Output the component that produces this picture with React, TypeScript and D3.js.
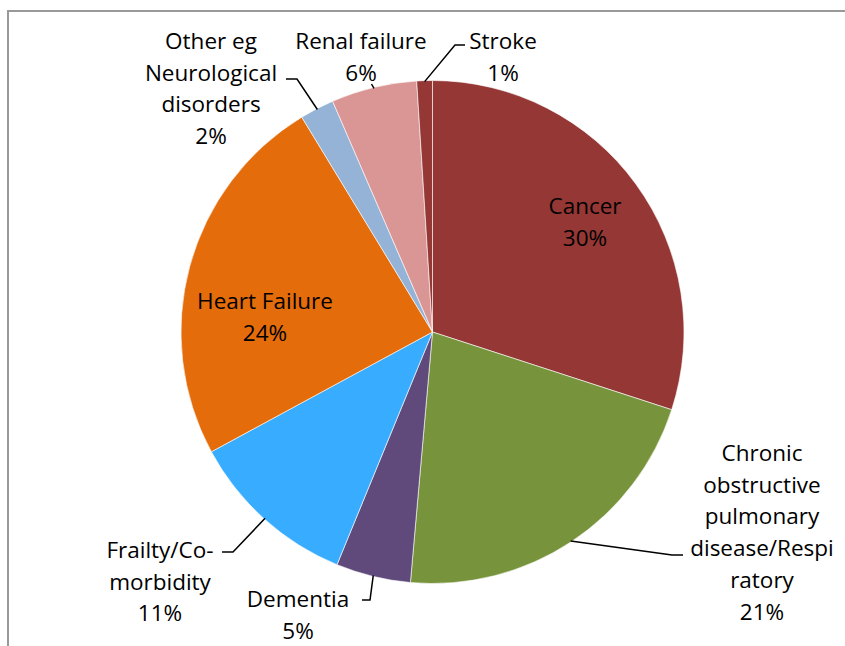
import React from "react";
import * as d3 from "d3";

const categories = [
  "Cancer",
  "Chronic obstructive pulmonary disease/Respiratory",
  "Dementia",
  "Frailty/Co-morbidity",
  "Heart Failure",
  "Other eg Neurological disorders",
  "Renal failure",
  "Stroke",
];
const values = [30.0, 21.4, 4.8, 10.9, 24.2, 2.2, 5.5, 1.0];
const percentLabels = ["30%", "21%", "5%", "11%", "24%", "2%", "6%", "1%"];
const colors = ["#953735", "#77933C", "#604A7B", "#38ADFF", "#E46C0A", "#95B3D7", "#D99694", "#953735"];

// label layout: text lines and centers, leader polylines (after pie edge point)
const labelLines = [
  ["Cancer", "30%"],
  ["Chronic", "obstructive", "pulmonary", "disease/Respi", "ratory", "21%"],
  ["Dementia", "5%"],
  ["Frailty/Co-", "morbidity", "11%"],
  ["Heart Failure", "24%"],
  ["Other eg", "Neurological", "disorders", "2%"],
  ["Renal failure", "6%"],
  ["Stroke", "1%"],
];
const labelPos: [number, number][] = [
  [585, 205],
  [762, 452],
  [298, 598],
  [160, 549],
  [265, 300],
  [211, 40],
  [361, 40],
  [503, 40],
];
const lineGap = 31.7;
const leaders: ([number, number][] | null)[] = [
  null,
  [[672, 555], [683, 555]],
  [[370, 600], [362, 600]],
  [[233, 552], [222, 552]],
  null,
  [[297, 79], [286, 79]],
  [[371.5, 84]],
  [[455, 45], [465, 45]],
];

export default function App() {
  const width = 845;
  const height = 646;
  const cx = 432.5;
  const cy = 332;
  const r = 251.5;
  const pie = d3.pie<number>().sort(null).value((d) => d);
  const arcs = pie(values);
  const arc = d3.arc<d3.PieArcDatum<number>>().innerRadius(0).outerRadius(r);
  const edge = d3.arc<d3.PieArcDatum<number>>().innerRadius(r - 1).outerRadius(r - 1);
  const font = "'Open Sans', 'Noto Sans', sans-serif";

  return (
    <svg width={width} height={height} style={{ position: "absolute", left: 0, top: 0 }}>
      <rect x={0} y={0} width={width} height={height} fill="#fff" />
      <path d={`M8,${height} L8,11 L${width},11`} fill="none" stroke="#999" strokeWidth={2} />
      <g transform={`translate(${cx},${cy})`}>
        {arcs.map((a, i) => (
          <path key={i} d={arc(a) || ""} fill={colors[i]} stroke="#fff" strokeWidth={0.6} />
        ))}
      </g>
      {arcs.map((a, i) => {
        const pts = leaders[i];
        if (!pts) return null;
        const [ex, ey] = edge.centroid(a);
        const all: [number, number][] = [[ex + cx, ey + cy], ...pts];
        const d = d3.line()(all) || "";
        return <path key={i} d={d} fill="none" stroke="#000" strokeWidth={1.5} />;
      })}
      {labelLines.map((lines, i) => (
        <text
          key={i}
          fontFamily={font}
          fontSize={22.5}
          fill="#000"
          textAnchor="middle"
          dominantBaseline="central"
        >
          {lines.map((t, j) => (
            <tspan key={j} x={labelPos[i][0]} y={labelPos[i][1] + j * lineGap}>
              {t}
            </tspan>
          ))}
        </text>
      ))}
    </svg>
  );
}
